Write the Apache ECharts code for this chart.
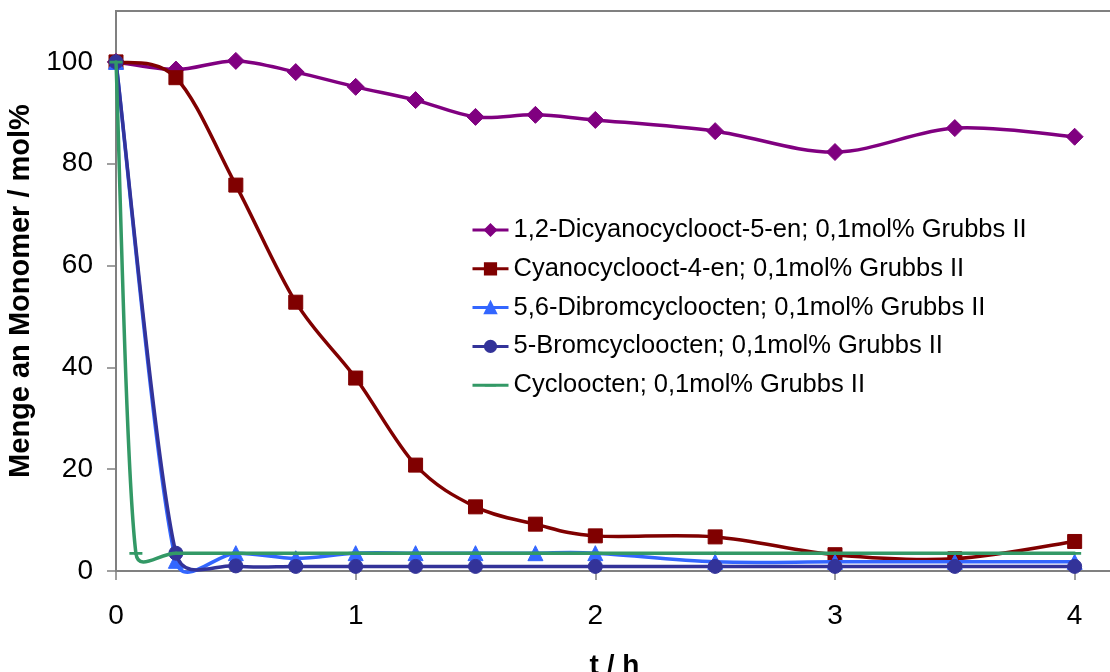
<!DOCTYPE html>
<html>
<head>
<meta charset="utf-8">
<script src="https://cdn.jsdelivr.net/npm/echarts@6/dist/echarts.min.js"></script>
<style>
html,body{margin:0;padding:0;background:#fff;}
#chart{width:1110px;height:672px;}
</style>
</head>
<body>
<div id="chart"></div>
<script>
// ---- data ----
const seriesNames = [
  '1,2-Dicyanocyclooct-5-en; 0,1mol% Grubbs II',
  'Cyanocyclooct-4-en; 0,1mol% Grubbs II',
  '5,6-Dibromcycloocten; 0,1mol% Grubbs II',
  '5-Bromcycloocten; 0,1mol% Grubbs II',
  'Cycloocten; 0,1mol% Grubbs II'
];
const tDicyano = [0, 0.25, 0.5, 0.75, 1, 1.25, 1.5, 1.75, 2, 2.5, 3, 3.5, 4];
const yDicyano = [100, 98.5, 100.2, 98, 95.1, 92.5, 89.2, 89.6, 88.6, 86.4, 82.3, 87, 85.3];
const tCyano = [0, 0.25, 0.5, 0.75, 1, 1.25, 1.5, 1.75, 2, 2.5, 3, 3.5, 4];
const yCyano = [100, 96.9, 75.8, 52.8, 37.9, 20.8, 12.6, 9.2, 6.9, 6.7, 3.2, 2.4, 5.8];
const tDibrom = [0, 0.25, 0.5, 0.75, 1, 1.25, 1.5, 1.75, 2, 2.5, 3, 3.5, 4];
const yDibrom = [100, 2.0, 3.5, 2.5, 3.5, 3.5, 3.5, 3.5, 3.5, 1.8, 1.8, 1.8, 1.8];
const tBrom = [0, 0.25, 0.5, 0.75, 1, 1.25, 1.5, 2, 2.5, 3, 3.5, 4];
const yBrom = [100, 3.5, 1.0, 0.9, 0.9, 0.9, 0.9, 0.9, 0.9, 0.9, 0.9, 0.9];
const tCyclo = [0, 0.083, 0.25, 0.5, 0.75, 1, 1.5, 2, 2.5, 3, 3.5, 4];
const yCyclo = [100, 3.5, 3.5, 3.5, 3.5, 3.5, 3.5, 3.5, 3.5, 3.5, 3.5, 3.5];
const xTicks = [0, 1, 2, 3, 4];
const yTicks = [0, 20, 40, 60, 80, 100];
const xTitle = 't / h';
const yTitle = 'Menge an Monomer / mol%';

function pairs(t, y) { return t.map((v, i) => [v, y[i]]); }

const FONT = '"Liberation Sans", Arial, sans-serif';
const colors = ['#800080', '#800000', '#3366FF', '#333399', '#339966'];
// dash marker: square bounding box, visible bar in the middle
const dash = 'path://M0,0 L12,0 L12,0.001 Z M0,5 L12,5 L12,7.5 L0,7.5 Z M0,12 L12,12 L12,12.001 Z';
const symbols = ['diamond', 'rect', 'triangle', 'circle', dash];
const sizes = [17, 14, 15, 14, 13];
const borders = [1, 1, 1, 1, 0];
const datasets = [
  pairs(tDicyano, yDicyano),
  pairs(tCyano, yCyano),
  pairs(tDibrom, yDibrom),
  pairs(tBrom, yBrom),
  pairs(tCyclo, yCyclo)
];

// Excel-style smoothed segment (Bezier, tension 1/6, control arm capped at half the segment)
function smoothSegment(data, color) {
  return function (params, api) {
    const i = params.dataIndex;
    const n = data.length;
    if (i >= n - 1) return null;
    const P = k => api.coord(data[Math.max(0, Math.min(n - 1, k))]);
    const p0 = P(i - 1), p1 = P(i), p2 = P(i + 1), p3 = P(i + 2);
    const d12 = Math.hypot(p2[0] - p1[0], p2[1] - p1[1]);
    const v1 = [p2[0] - p0[0], p2[1] - p0[1]];
    const v2 = [p3[0] - p1[0], p3[1] - p1[1]];
    const l1 = Math.hypot(v1[0], v1[1]), l2 = Math.hypot(v2[0], v2[1]);
    const f1 = (l1 / 6 < d12 / 2 || l1 === 0) ? 1 / 6 : d12 / (2 * l1);
    const f2 = (l2 / 6 < d12 / 2 || l2 === 0) ? 1 / 6 : d12 / (2 * l2);
    return {
      type: 'bezierCurve',
      shape: {
        x1: p1[0], y1: p1[1], x2: p2[0], y2: p2[1],
        cpx1: p1[0] + v1[0] * f1, cpy1: p1[1] + v1[1] * f1,
        cpx2: p2[0] - v2[0] * f2, cpy2: p2[1] - v2[1] * f2
      },
      style: {stroke: color, lineWidth: 3.5, fill: null, lineCap: 'round'}
    };
  };
}

const series = [];
seriesNames.forEach((n, i) => {
  series.push({
    name: n + ' (Kurve)',
    type: 'custom',
    data: datasets[i],
    renderItem: smoothSegment(datasets[i], colors[i]),
    clip: false,
    silent: true,
    z: 2 + 2 * i
  });
  series.push({
    name: n,
    type: 'line',
    data: datasets[i],
    symbol: symbols[i],
    symbolSize: sizes[i],
    showSymbol: true,
    lineStyle: {color: colors[i], width: 3.5, opacity: 0},
    itemStyle: {color: colors[i], borderColor: colors[i], borderWidth: borders[i]},
    z: 3 + 2 * i
  });
});

const chart = echarts.init(document.getElementById('chart'), null, {renderer: 'canvas'});
chart.setOption({
  animation: false,
  backgroundColor: '#ffffff',
  grid: {left: 116, top: 11, width: 997, height: 560, outerBoundsMode: 'none', containLabel: false,
         show: true, borderColor: '#808080', borderWidth: 2, backgroundColor: 'transparent'},
  legend: {
    orient: 'vertical',
    left: 466,
    top: 212,
    itemWidth: 36,
    itemHeight: 14,
    itemGap: 12.8,
    lineStyle: {opacity: 1, width: 3},
    textStyle: {fontFamily: FONT, fontSize: 25.5, color: '#000'},
    data: seriesNames
  },
  xAxis: {
    type: 'value',
    min: 0,
    max: 4.16,
    interval: 1,
    name: xTitle,
    nameLocation: 'middle',
    nameGap: 81,
    nameTextStyle: {fontFamily: FONT, fontSize: 28, fontWeight: 'bold', color: '#000', verticalAlign: 'top'},
    axisLine: {lineStyle: {color: '#808080', width: 2}},
    axisTick: {length: 9, lineStyle: {color: '#808080', width: 1.5}, customValues: xTicks},
    axisLabel: {fontFamily: FONT, fontSize: 28, color: '#000', margin: 31, customValues: xTicks},
    splitLine: {show: false}
  },
  yAxis: {
    type: 'value',
    min: 0,
    max: 110,
    interval: 20,
    name: yTitle,
    nameLocation: 'middle',
    nameGap: 74,
    nameTextStyle: {fontFamily: FONT, fontSize: 29, fontWeight: 'bold', color: '#000'},
    axisLine: {show: true, lineStyle: {color: '#808080', width: 1.5}},
    axisTick: {show: true, length: 9, lineStyle: {color: '#808080', width: 1.5}, customValues: yTicks},
    axisLabel: {fontFamily: FONT, fontSize: 28, color: '#000', margin: 23, customValues: yTicks},
    splitLine: {show: false}
  },
  series: series
});
</script>
</body>
</html>
